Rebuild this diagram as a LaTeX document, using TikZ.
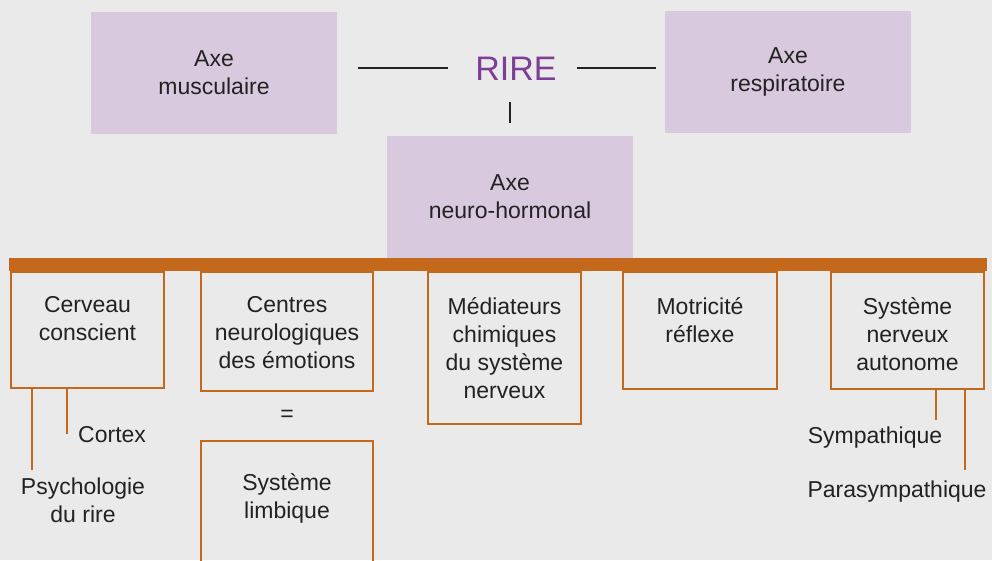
\documentclass[tikz,border=0pt]{standalone}
\usepackage{fontspec}
\setmainfont{Liberation Sans}
\usepackage{xcolor}
\usepackage{tikz}
\usetikzlibrary{positioning,calc}
\definecolor{fond}{RGB}{234,234,234}
\definecolor{lavande}{RGB}{216,201,222}
\definecolor{brique}{RGB}{196,104,28}
\definecolor{rirecol}{RGB}{125,62,150}
\definecolor{encre}{RGB}{34,34,34}

\begin{document}
\begin{tikzpicture}[
  x=1pt, y=-1pt,
  axe/.style={rectangle,fill=lavande,align=center,minimum width=246pt,minimum height=122pt,font=\fontsize{23}{28}\selectfont,text=encre},
  cadre/.style={rectangle,draw=brique,line width=2pt,anchor=north west},
  txt/.style={align=center,inner sep=0pt,font=\fontsize{23}{28}\selectfont,text=encre},
  trait/.style={line width=2pt,draw=encre},
  otrait/.style={line width=2.5pt,draw=brique}
]
\clip (0,0) rectangle (992,560);
\fill[fond] (0,0) rectangle (992,560);
% les trois axes
\node[axe] (musc) at (214,73) {Axe\\musculaire};
\node[axe] (resp) at (788,72) {Axe\\respiratoire};
\node[axe] (neuro) at (510,197) {Axe\\neuro-hormonal};
\node[inner sep=0pt,anchor=base,text=rirecol,font=\fontsize{34}{40}\selectfont] (rire) at (516,80) {RIRE};
\draw[trait,shorten <=21pt,shorten >=27pt] (rire.west -| musc.east) -- (rire.west);
\draw[trait,shorten <=20pt,shorten >=9pt] (rire.east) -- (rire.east -| resp.west);
\draw[trait,line width=2.5pt,shorten <=22pt,shorten >=13pt] (neuro.north |- rire.south) -- (neuro.north);
% cadres du bas
\node[cadre,minimum width=153pt,minimum height=116pt] (cerveau) at (10,271) {};
\node[cadre,minimum width=172pt,minimum height=119pt] (centres) at (200,271) {};
\node[cadre,minimum width=153pt,minimum height=152pt] (medi) at (427,271) {};
\node[cadre,minimum width=154pt,minimum height=117pt] (motr) at (622,271) {};
\node[cadre,minimum width=153pt,minimum height=117pt] (sna) at (830,271) {};
\node[cadre,minimum width=172pt,minimum height=140pt] (limb) at (200,440) {};
\node[fill=brique,minimum width=978pt,minimum height=13pt,inner sep=0pt,anchor=north west] (barre) at (9,258) {};
\node[txt,below=25pt of cerveau.north] (tcerveau) {Cerveau\\conscient};
\node[txt,below=25pt of centres.north] (tcentres) {Centres\\neurologiques\\des émotions};
\node[txt,below=26pt of medi.north] (tmedi) {Médiateurs\\chimiques\\du système\\nerveux};
\node[txt,below=26pt of motr.north] (tmotr) {Motricité\\réflexe};
\node[txt,below=26pt of sna.north] (tsna) {Système\\nerveux\\autonome};
\node[txt,below=33pt of limb.north] (tlimb) {Système\\limbique};
\node[txt] (egal) at ($(centres.south)!0.5!(limb.north)$) {=};
% branches
\node[txt,anchor=base west] (cortex) at (78,442) {Cortex};
\node[txt,anchor=north] (psy) at (83,478) {Psychologie\\du rire};
\node[txt,anchor=base] (symp) at (875,443) {Sympathique};
\node[txt,anchor=base] (para) at (897,497) {Parasympathique};
\coordinate (cpsy) at ([xshift=22pt]cerveau.south west);
\coordinate (ccor) at ([xshift=57pt]cerveau.south west);
\coordinate (csym) at ([xshift=106pt]sna.south west);
\coordinate (cpar) at ([xshift=135pt]sna.south west);
\draw[otrait,shorten >=8pt] (cpsy) -- (cpsy |- psy.north);
\draw[otrait] (ccor) -- (ccor |- cortex.west);
\draw[otrait,shorten >=6pt] (csym) -- (csym |- symp.north);
\draw[otrait,shorten >=10pt] (cpar) -- (cpar |- para.north);
\end{tikzpicture}
\end{document}
